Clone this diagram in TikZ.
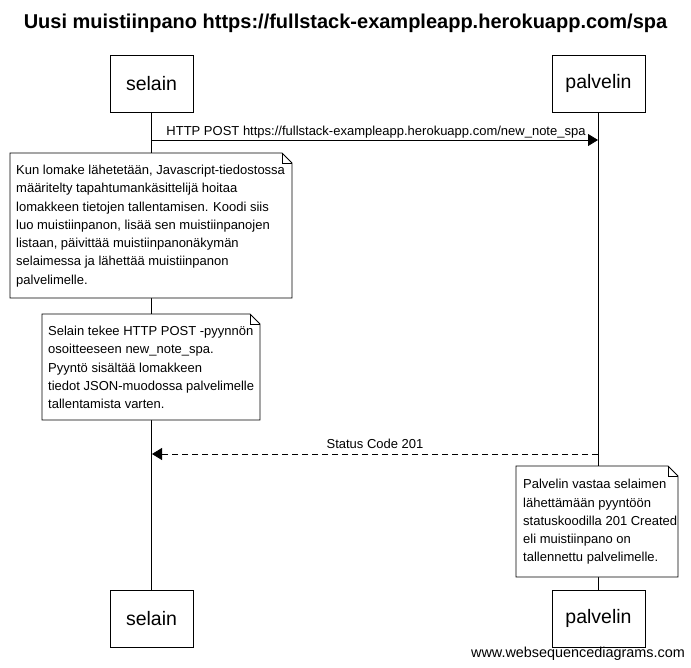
\documentclass[tikz,border=0pt]{standalone}
\usepackage{fontspec}
\setmainfont{Liberation Sans}
\usetikzlibrary{arrows.meta}
\pgfdeclarelayer{lines}
\pgfdeclarelayer{notebg}
\pgfsetlayers{lines,notebg,main}
\tikzset{
  actor/.style={draw, line width=0.8pt, fill=white, minimum width=#1, minimum height=57pt, inner sep=0pt, font=\fontsize{19.5}{21}\selectfont},
  lifeline/.style={line width=0.8pt},
  notetext/.style={anchor=west, inner sep=0pt, align=left, font=\fontsize{13}{18.3}\selectfont},
  notedraw/.style={draw, line width=0.8pt, fill=white, line join=miter},
  msg/.style={line width=0.8pt, -{Triangle[length=10pt,width=12pt]}},
  reply/.style={msg, dash pattern=on 6pt off 4pt},
  msglabel/.style={font=\fontsize{13}{15}\selectfont, inner sep=0pt}
}
% #1 name, #2 north-west corner, #3 south-east corner
\newcommand{\drawnote}[3]{%
  \coordinate (#1nw) at #2;
  \coordinate (#1se) at #3;
  \coordinate (#1ne) at (#1se |- #1nw);
  \coordinate (#1sw) at (#1nw |- #1se);
  \begin{pgfonlayer}{notebg}
  \draw[notedraw] (#1nw) -- ([xshift=-10pt]#1ne) -- ([yshift=-10pt]#1ne) -- (#1se) -- (#1sw) -- cycle;
  \draw[line width=0.8pt] ([xshift=-10pt]#1ne) -- ([xshift=-10pt,yshift=-10pt]#1ne) -- ([yshift=-10pt]#1ne);
  \end{pgfonlayer}}
\begin{document}
\begin{tikzpicture}[x=1pt,y=-1pt]
\useasboundingbox (0,0) rectangle (691,667);
% title
\node[font=\bfseries\fontsize{20}{22}\selectfont, inner sep=0pt] (title) at (345.5,23) {Uusi muistiinpano https://fullstack-exampleapp.herokuapp.com/spa};
% actors
\node[actor=83pt] (s1) at (151.5,83.5) {selain};
\node[actor=93pt] (p1) at (598.5,83.5) {palvelin};
\node[actor=83pt] (s2) at (151.5,618.5) {selain};
\node[actor=93pt] (p2) at (598.5,618.5) {palvelin};
% lifelines
\begin{pgfonlayer}{lines}
\draw[lifeline] (s1.south) -- (s2.north);
\draw[lifeline] (p1.south) -- (p2.north);
\end{pgfonlayer}
% message 1
\coordinate (m1s) at (152,140);
\coordinate (m1e) at (598,140);
\draw[msg] (m1s) -- (m1e);
\node[msglabel, anchor=base] (l1) at (376,135) {HTTP POST https://fullstack-exampleapp.herokuapp.com/new\_note\_spa};
% note 1
\drawnote{na}{(10,153)}{(292,298)}
\node[notetext] (n1) at (16,226) {Kun lomake lähetetään, Javascript-tiedostossa\\määritelty tapahtumankäsittelijä hoitaa\\lomakkeen tietojen tallentamisen. Koodi siis\\luo muistiinpanon, lisää sen muistiinpanojen\\listaan, päivittää muistiinpanonäkymän\\selaimessa ja lähettää muistiinpanon\\palvelimelle.};
% note 2
\drawnote{nb}{(42,314)}{(260,420)}
\node[notetext] (n2) at (48,367.5) {Selain tekee HTTP POST -pyynnön\\osoitteeseen new\_note\_spa.\\Pyyntö sisältää lomakkeen\\tiedot JSON-muodossa palvelimelle\\tallentamista varten.};
% message 2
\coordinate (m2s) at (598,454);
\coordinate (m2e) at (152,454);
\draw[reply] (m2s) -- (m2e);
\node[msglabel, anchor=base] (l2) at (375,448) {Status Code 201};
% note 3
\drawnote{nc}{(516,466)}{(678,577)}
\node[notetext] (n3) at (523,522) {Palvelin vastaa selaimen\\lähettämään pyyntöön\\statuskoodilla 201 Created\\eli muistiinpano on\\tallennettu palvelimelle.};
% footer
\node[font=\fontsize{14.4}{16}\selectfont, anchor=base east, inner sep=0pt] (foot) at (685,657) {www.websequencediagrams.com};
\end{tikzpicture}
\end{document}
